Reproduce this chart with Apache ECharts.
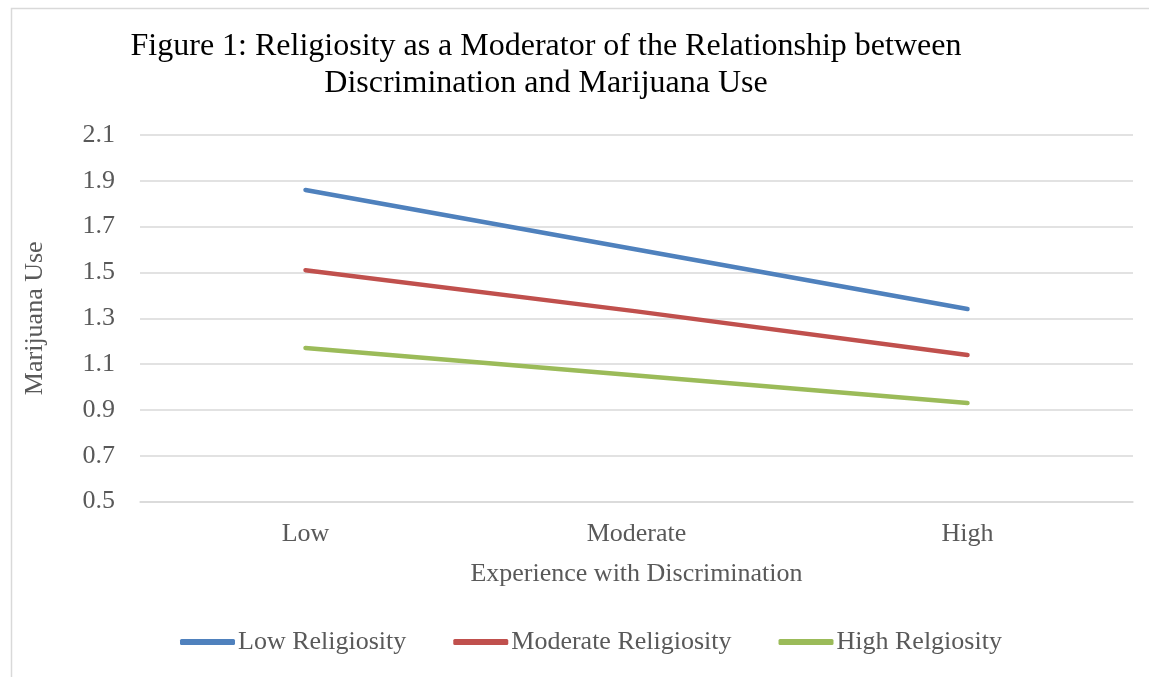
<!DOCTYPE html>
<html>
<head>
<meta charset="utf-8">
<script src="https://cdn.jsdelivr.net/npm/echarts@6/dist/echarts.min.js"></script>
<style>html,body{margin:0;padding:0;background:#fff;}#c{width:1149px;height:677px;}</style>
</head>
<body>
<div id="c"></div>
<script>
const categories = ['Low', 'Moderate', 'High'];
const seriesNames = ['Low Religiosity', 'Moderate Religiosity', 'High Relgiosity'];
const lowReligiosity = [1.86, 1.60, 1.34];
const moderateReligiosity = [1.51, 1.33, 1.14];
const highReligiosity = [1.17, 1.05, 0.93];
const yTicks = { min: 0.5, max: 2.1, interval: 0.2 };
const titleText = 'Figure 1: Religiosity as a Moderator of the Relationship between\nDiscrimination and Marijuana Use';
const xName = 'Experience with Discrimination';
const yName = 'Marijuana Use';

const colors = ['#4F81BD', '#C0504D', '#9BBB59'];
const font = '"Liberation Serif", "Times New Roman", serif';
const chart = echarts.init(document.getElementById('c'));
const dataSets = [lowReligiosity, moderateReligiosity, highReligiosity];

chart.setOption({
  animation: false,
  color: colors,
  textStyle: { fontFamily: font },
  graphic: [{
    type: 'rect', silent: true,
    shape: { x: 11.5, y: 8.5, width: 1300, height: 800 },
    style: { fill: 'none', stroke: '#d9d9d9', lineWidth: 1.5 }
  }],
  title: {
    text: titleText,
    left: 541, top: 23, textAlign: 'center',
    textStyle: { fontFamily: font, fontSize: 32, fontWeight: 'normal', color: '#000', lineHeight: 37, align: 'center' }
  },
  grid: { left: 140, right: 16, top: 135, bottom: 175.5, containLabel: false },
  legend: {
    bottom: 17, left: 175,
    itemWidth: 55, itemHeight: 6, itemGap: 47,
    icon: 'roundRect',
    textStyle: { fontFamily: font, fontSize: 26, color: '#595959', padding: [0, 0, 0, -2] },
    data: seriesNames
  },
  xAxis: {
    type: 'category', data: categories, boundaryGap: true,
    name: xName, nameLocation: 'middle', nameGap: 60,
    nameTextStyle: { fontFamily: font, fontSize: 26, color: '#595959' },
    axisLine: { lineStyle: { color: '#d9d9d9', width: 1.5 } },
    axisTick: { show: false },
    axisLabel: { fontFamily: font, fontSize: 26, color: '#595959', margin: 20 }
  },
  yAxis: {
    type: 'value', min: yTicks.min, max: yTicks.max, interval: yTicks.interval,
    name: yName, nameLocation: 'middle', nameGap: 92,
    nameTextStyle: { fontFamily: font, fontSize: 26, color: '#595959' },
    axisLine: { show: false }, axisTick: { show: false },
    axisLabel: { fontFamily: font, fontSize: 26, color: '#595959', margin: 25,
      formatter: v => v.toFixed(1) },
    splitLine: { lineStyle: { color: '#d9d9d9', width: 1.5 } }
  },
  series: seriesNames.map((n, i) => ({
    name: n, type: 'line', data: dataSets[i],
    showSymbol: false, symbol: 'none', smooth: false,
    lineStyle: { width: 4.5, cap: 'round', join: 'round', color: colors[i] },
    itemStyle: { color: colors[i] }
  }))
});
</script>
</body>
</html>
